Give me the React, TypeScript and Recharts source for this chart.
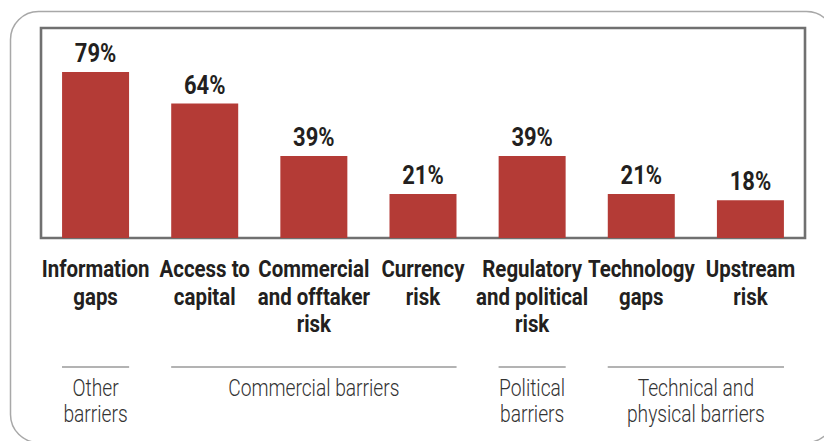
import { BarChart, Bar, XAxis, YAxis, LabelList, ReferenceArea } from "recharts";

// Share of respondents naming each barrier
const categories = [
  "Information gaps",
  "Access to capital",
  "Commercial and offtaker risk",
  "Currency risk",
  "Regulatory and political risk",
  "Technology gaps",
  "Upstream risk",
];
const categoryLines = [
  ["Information", "gaps"],
  ["Access to", "capital"],
  ["Commercial", "and offtaker", "risk"],
  ["Currency", "risk"],
  ["Regulatory", "and political", "risk"],
  ["Technology", "gaps"],
  ["Upstream", "risk"],
];
const shares = [79, 64, 39, 21, 39, 21, 18];

// Groups of barriers shown under the axis
const groupLines = [
  ["Other", "barriers"],
  ["Commercial barriers"],
  ["Political", "barriers"],
  ["Technical and", "physical barriers"],
];
const groupStart = [0, 1, 4, 5];
const groupSize = [1, 3, 1, 2];

const data = categories.map((name, i) => ({ name, share: shares[i] }));

const W = 824;
const H = 441;
const RED = "#b43b36";
const BORDER = "#707070";
const TEXT = "#231f20";
const FONT = "Roboto, 'DejaVu Sans', sans-serif";

// condensed look: no narrow font is installed, so squeeze horizontally
function NarrowText({ x, y, sx, children, ...rest }: any) {
  return (
    <text transform={`translate(${x},${y}) scale(${sx},1)`} x={0} y={0} textAnchor="middle" fontFamily={FONT} {...rest}>
      {children}
    </text>
  );
}

function CategoryTick(props: any) {
  const { x, y, payload, index } = props;
  const lines: string[] = categoryLines[index] || [];
  const half = payload.offset ?? props.width / props.visibleTicksCount / 2;
  const g = groupStart.indexOf(index);
  let group = null;
  if (g >= 0) {
    const inset = half * 0.385;
    const x1 = x - half + inset;
    const x2 = x + half * (2 * groupSize[g] - 1) - inset;
    const cx = (x1 + x2) / 2;
    group = (
      <g>
        <line x1={x1} x2={x2} y1={y + 129} y2={y + 129} stroke="#9a9a9a" strokeWidth={1.6} />
        {groupLines[g].map((t, k) => (
          <NarrowText key={k} x={cx} y={y + 158 + k * 26} sx={0.8} fill="#333333" fontWeight={300} fontSize={24}>
            {t}
          </NarrowText>
        ))}
      </g>
    );
  }
  return (
    <g>
      {lines.map((t, k) => (
        <NarrowText key={k} x={x} y={y + 39 + k * 27.5} sx={0.87} fill={TEXT} fontWeight="bold" fontSize={23.5}>
          {t}
        </NarrowText>
      ))}
      {group}
    </g>
  );
}

function ValueLabel(props: any) {
  const { x, y, width, value } = props;
  return (
    <NarrowText x={x + width / 2} y={y - 10} sx={0.88} fill={TEXT} fontWeight="bold" fontSize={25}>
      {`${value}%`}
    </NarrowText>
  );
}

export default function App() {
  return (
    <div style={{ position: "absolute", left: 0, top: 0, width: W, height: H, background: "#fff" }}>
      <svg width={W} height={H} style={{ position: "absolute", left: 0, top: 0 }}>
        <rect x={10.5} y={11.5} width={824} height={431} rx={28} fill="none" stroke="#a8a8a8" strokeWidth={1.5} />
      </svg>
      <div style={{ position: "absolute", left: 0, top: 0 }}>
        <BarChart
          width={W}
          height={H}
          data={data}
          margin={{ top: 28, right: 19, left: 41, bottom: 3 }}
          barCategoryGap="19.3%"
        >
          <XAxis
            dataKey="name"
            height={200}
            tickLine={false}
            tickSize={0}
            tickMargin={0}
            interval={0}
            axisLine={false}
            tick={<CategoryTick />}
          />
          <YAxis domain={[0, 100]} width={0} tick={false} tickLine={false} axisLine={false} />
          <Bar dataKey="share" fill={RED} isAnimationActive={false}>
            <LabelList dataKey="share" content={<ValueLabel />} />
          </Bar>
          <ReferenceArea y1={0} y2={100} fill="none" stroke={BORDER} strokeWidth={2.6} />
        </BarChart>
      </div>
    </div>
  );
}
